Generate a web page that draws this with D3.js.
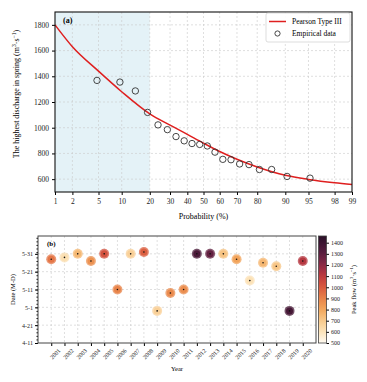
<!DOCTYPE html>
<html lang="en">
<head>
<meta charset="UTF-8">
<title>Spring peak discharge</title>
<script src="https://d3js.org/d3.v7.min.js"></script>
<style>
    body { margin: 0; background: #fff; }
    svg { display: block; font-family: 'Liberation Serif', 'DejaVu Serif', serif; }
    .tick text { fill: #222; }
    .grid line { stroke: #c9c9c9; stroke-dasharray: 2,2; stroke-width: 0.6; }
</style>
</head>
<body>
<svg id="chart" width="367" height="382"></svg>
<script>
// ---- data ----
// panel (a): exceedance probability (%) ticks
var probTicks = [1, 2, 5, 10, 20, 30, 40, 50, 60, 70, 80, 90, 95, 98, 99];
// Pearson type III fitted curve (probability %, discharge)
var curveProb = [1, 2, 5, 10, 20, 30, 40, 50, 60, 70, 80, 90, 95, 98, 99];
var curveQ    = [1800, 1630, 1440, 1280, 1108, 1020, 948, 880, 815, 755, 695, 630, 598, 572, 559];
// empirical points (Weibull plotting positions)
var empProb = [4.76, 9.52, 14.29, 19.05, 23.81, 28.57, 33.33, 38.10, 42.86, 47.62,
               52.38, 57.14, 61.90, 66.67, 71.43, 76.19, 80.95, 85.71, 90.48, 95.24];
var empQ    = [1368, 1355, 1286, 1119, 1022, 985, 931, 898, 877, 870,
               858, 810, 754, 751, 718, 713, 675, 675, 621, 608];
var qTicks = [600, 800, 1000, 1200, 1400, 1600, 1800];

// panel (b): date of the spring peak and its flow
var years = [2001, 2002, 2003, 2004, 2005, 2006, 2007, 2008, 2009, 2010,
             2011, 2012, 2013, 2014, 2015, 2016, 2017, 2018, 2019, 2020];
var peakDate = ["5-28", "5-29", "5-31", "5-27", "5-31", "5-11", "5-31", "6-1", "4-29", "5-9",
                "5-11", "5-31", "5-31", "5-31", "5-28", "5-16", "5-26", "5-24", "4-29", "5-27"];
var peakFlow = [931, 621, 751, 858, 1022, 898, 675, 985, 675, 877,
                870, 1355, 1286, 718, 810, 608, 754, 713, 1368, 1119];
var dateTicks = ["4-11", "4-21", "5-1", "5-11", "5-21", "5-31"];
var flowTicks = [500, 600, 700, 800, 900, 1000, 1100, 1200, 1300, 1400];
var cmapStops = [500, 600, 700, 800, 900, 1000, 1100, 1200, 1300, 1400, 1460];
var cmapColors = ["#fffbf3", "#fce4bb", "#f8ca8c", "#f2a75c", "#e8834a", "#d9593f",
                  "#bf3a3e", "#8c2a46", "#5c1f40", "#3c1532", "#2a0f26"];

// inverse normal CDF (Acklam)
function probit(p) {
    var a = [-39.6968302866538, 220.946098424521, -275.928510446969, 138.357751867269, -30.6647980661472, 2.50662827745924];
    var b = [-54.4760987982241, 161.585836858041, -155.698979859887, 66.8013118877197, -13.2806815528857];
    var c = [-0.00778489400243029, -0.322396458041136, -2.40075827716184, -2.54973253934373, 4.37466414146497, 2.93816398269878];
    var d = [0.00778469570904146, 0.32246712907004, 2.445134137143, 3.75440866190742];
    var q, r;
    if (p < 0.02425) {
        q = Math.sqrt(-2 * Math.log(p));
        return (((((c[0]*q+c[1])*q+c[2])*q+c[3])*q+c[4])*q+c[5]) / ((((d[0]*q+d[1])*q+d[2])*q+d[3])*q+1);
    } else if (p > 1 - 0.02425) {
        q = Math.sqrt(-2 * Math.log(1 - p));
        return -(((((c[0]*q+c[1])*q+c[2])*q+c[3])*q+c[4])*q+c[5]) / ((((d[0]*q+d[1])*q+d[2])*q+d[3])*q+1);
    }
    q = p - 0.5; r = q * q;
    return (((((a[0]*r+a[1])*r+a[2])*r+a[3])*r+a[4])*r+a[5])*q / (((((b[0]*r+b[1])*r+b[2])*r+b[3])*r+b[4])*r+1);
}

var svg = d3.select("#chart");

// helper for "(m3·s-1)" with superscripts
function unitText(sel, prefix) {
    sel.append("tspan").text(prefix + "(m");
    sel.append("tspan").attr("dy", -3).attr("font-size", "0.7em").text("3");
    sel.append("tspan").attr("dy", 3).text("·s");
    sel.append("tspan").attr("dy", -3).attr("font-size", "0.7em").text("−1");
    sel.append("tspan").attr("dy", 3).text(")");
}

// ================= panel (a) =================
var A = {left: 55, right: 352, top: 12, bottom: 192};
var xz = d3.scaleLinear().domain([probit(0.01), probit(0.99)]).range([A.left, A.right]);
var xa = function (p) { return xz(probit(p / 100)); };
var ya = d3.scaleLinear().domain([500, 1900]).range([A.bottom, A.top]);

var ga = svg.append("g");

ga.append("rect")
    .attr("x", xa(1)).attr("y", A.top)
    .attr("width", xa(20) - xa(1)).attr("height", A.bottom - A.top)
    .attr("fill", "#e4f2f7");

var gridA = ga.append("g").attr("class", "grid");
gridA.selectAll("line.v").data(probTicks.slice(1, -1)).enter().append("line")
    .attr("x1", xa).attr("x2", xa).attr("y1", A.top).attr("y2", A.bottom);
gridA.selectAll("line.h").data(qTicks).enter().append("line")
    .attr("x1", A.left).attr("x2", A.right).attr("y1", ya).attr("y2", ya);

var lineA = d3.line()
    .x(function (d, i) { return xa(curveProb[i]); })
    .y(function (d) { return ya(d); })
    .curve(d3.curveMonotoneX);
ga.append("path").datum(curveQ)
    .attr("d", lineA)
    .attr("fill", "none").attr("stroke", "#df1f1f").attr("stroke-width", 1.5);

ga.selectAll("circle.emp").data(empQ).enter().append("circle")
    .attr("cx", function (d, i) { return xa(empProb[i]); })
    .attr("cy", function (d) { return ya(d); })
    .attr("r", 3.2)
    .attr("fill", "none").attr("stroke", "#333").attr("stroke-width", 0.9);

ga.append("g").attr("transform", "translate(0," + A.bottom + ")")
    .call(d3.axisBottom(xz).tickValues(probTicks.map(function (p) { return probit(p / 100); }))
        .tickFormat(function (d, i) { return probTicks[i]; }).tickSize(3).tickPadding(4))
    .call(function (g) { g.select(".domain").remove(); })
    .selectAll("text").attr("font-size", 7.5).attr("font-family", "Liberation Serif");

ga.append("g").attr("transform", "translate(" + A.left + ",0)")
    .call(d3.axisLeft(ya).tickValues(qTicks).tickFormat(d3.format("d")).tickSize(3).tickPadding(3))
    .call(function (g) { g.select(".domain").remove(); })
    .selectAll("text").attr("font-size", 7.5).attr("font-family", "Liberation Serif");

ga.append("rect")
    .attr("x", A.left).attr("y", A.top)
    .attr("width", A.right - A.left).attr("height", A.bottom - A.top)
    .attr("fill", "none").attr("stroke", "#111").attr("stroke-width", 1.1);

ga.append("text").attr("x", 63).attr("y", 23)
    .attr("font-size", 8).attr("font-weight", "bold").text("(a)");

ga.append("text")
    .attr("x", (A.left + A.right) / 2).attr("y", 219)
    .attr("text-anchor", "middle").attr("font-size", 8)
    .text("Probability (%)");

var ylabA = ga.append("text")
    .attr("transform", "translate(19," + ((A.top + A.bottom) / 2 - 8) + ") rotate(-90)")
    .attr("text-anchor", "middle").attr("font-size", 8);
unitText(ylabA, "The highest discharge in spring ");

// legend
var lg = ga.append("g");
lg.append("rect").attr("x", 266).attr("y", 13).attr("width", 84).attr("height", 29).attr("rx", 2)
    .attr("fill", "#fff").attr("fill-opacity", 0.9).attr("stroke", "#cfcfcf").attr("stroke-width", 0.7);
lg.append("line").attr("x1", 269).attr("x2", 286).attr("y1", 21.5).attr("y2", 21.5)
    .attr("stroke", "#df1f1f").attr("stroke-width", 1.5);
lg.append("circle").attr("cx", 277.5).attr("cy", 33.5).attr("r", 2.6)
    .attr("fill", "none").attr("stroke", "#333").attr("stroke-width", 0.9);
lg.append("text").attr("x", 292).attr("y", 24).attr("font-size", 7.5).text("Pearson Type III");
lg.append("text").attr("x", 292).attr("y", 36).attr("font-size", 7.5).text("Empirical data");

// ================= panel (b) =================
var B = {left: 38, right: 316, top: 236, bottom: 343};
var parseMD = function (s) { var p = s.split("-"); return new Date(2001, +p[0] - 1, +p[1]); };
var xb = d3.scaleLinear().domain([2000, 2021]).range([B.left, B.right]);
var yb = d3.scaleTime().domain([new Date(2001, 3, 11), new Date(2001, 5, 10)]).range([B.bottom, B.top]);
var color = d3.scaleLinear().domain(cmapStops).range(cmapColors).interpolate(d3.interpolateLab).clamp(true);

var gb = svg.append("g");

var gridB = gb.append("g").attr("class", "grid");
gridB.selectAll("line.v").data(years).enter().append("line")
    .attr("x1", xb).attr("x2", xb).attr("y1", B.top).attr("y2", B.bottom);
gridB.selectAll("line.h").data(dateTicks.slice(1)).enter().append("line")
    .attr("x1", B.left).attr("x2", B.right)
    .attr("y1", function (d) { return yb(parseMD(d)); })
    .attr("y2", function (d) { return yb(parseMD(d)); });

var pts = gb.selectAll("g.pt").data(years).enter().append("g")
    .attr("transform", function (d, i) { return "translate(" + xb(d) + "," + yb(parseMD(peakDate[i])) + ")"; });
pts.append("circle").attr("r", 5)
    .attr("fill", function (d, i) { return color(peakFlow[i]); }).attr("fill-opacity", 0.75);
pts.append("circle").attr("r", 3.5)
    .attr("fill", function (d, i) { return color(peakFlow[i]); });
pts.append("circle").attr("r", 0.8).attr("fill", "#111");

var xAxisB = gb.append("g").attr("transform", "translate(0," + B.bottom + ")")
    .call(d3.axisBottom(xb).tickValues(years).tickFormat(d3.format("d")).tickSize(3));
xAxisB.select(".domain").remove();
xAxisB.selectAll("text")
    .attr("font-size", 6).attr("font-family", "Liberation Serif")
    .attr("text-anchor", "end")
    .attr("transform", "translate(2,1) rotate(-45)");

var yAxisB = gb.append("g").attr("transform", "translate(" + B.left + ",0)")
    .call(d3.axisLeft(yb).tickValues(dateTicks.map(parseMD)).tickFormat(d3.timeFormat("%-m-%-d")).tickSize(3).tickPadding(2));
yAxisB.select(".domain").remove();
yAxisB.selectAll("text").attr("font-size", 6).attr("font-family", "Liberation Serif");
gb.append("g").attr("transform", "translate(" + B.left + ",0)")
    .call(d3.axisLeft(yb).ticks(d3.timeDay.every(2)).tickFormat("").tickSize(1.5))
    .select(".domain").remove();

gb.append("rect")
    .attr("x", B.left).attr("y", B.top)
    .attr("width", B.right - B.left).attr("height", B.bottom - B.top)
    .attr("fill", "none").attr("stroke", "#444").attr("stroke-width", 1);

gb.append("text").attr("x", 47).attr("y", 246)
    .attr("font-size", 7).attr("font-weight", "bold").text("(b)");

gb.append("text")
    .attr("x", (B.left + B.right) / 2).attr("y", 371)
    .attr("text-anchor", "middle").attr("font-size", 6.5).text("Year");

gb.append("text")
    .attr("transform", "translate(15," + ((B.top + B.bottom) / 2) + ") rotate(-90)")
    .attr("text-anchor", "middle").attr("font-size", 6.5).text("Date (M-D)");

// colorbar
var CB = {x: 318.5, w: 8};
var cbScale = d3.scaleLinear().domain([500, 1460]).range([B.bottom, B.top]);
var defs = svg.append("defs");
var grad = defs.append("linearGradient").attr("id", "cbar")
    .attr("x1", 0).attr("y1", 1).attr("x2", 0).attr("y2", 0);
grad.selectAll("stop").data(d3.range(0, 1.0001, 0.05)).enter().append("stop")
    .attr("offset", function (d) { return d; })
    .attr("stop-color", function (d) { return color(500 + d * 960); });
gb.append("rect").attr("x", CB.x).attr("y", B.top).attr("width", CB.w).attr("height", B.bottom - B.top)
    .attr("fill", "url(#cbar)").attr("stroke", "#444").attr("stroke-width", 0.8);
var cbAxis = gb.append("g").attr("transform", "translate(" + (CB.x + CB.w) + ",0)")
    .call(d3.axisRight(cbScale).tickValues(flowTicks).tickFormat(d3.format("d")).tickSize(2.5).tickPadding(2));
cbAxis.select(".domain").remove();
cbAxis.selectAll("text").attr("font-size", 6).attr("font-family", "Liberation Serif");

var cbLab = gb.append("text")
    .attr("transform", "translate(356," + ((B.top + B.bottom) / 2) + ") rotate(-90)")
    .attr("text-anchor", "middle").attr("font-size", 6.5);
unitText(cbLab, "Peak flow ");
</script>
</body>
</html>
